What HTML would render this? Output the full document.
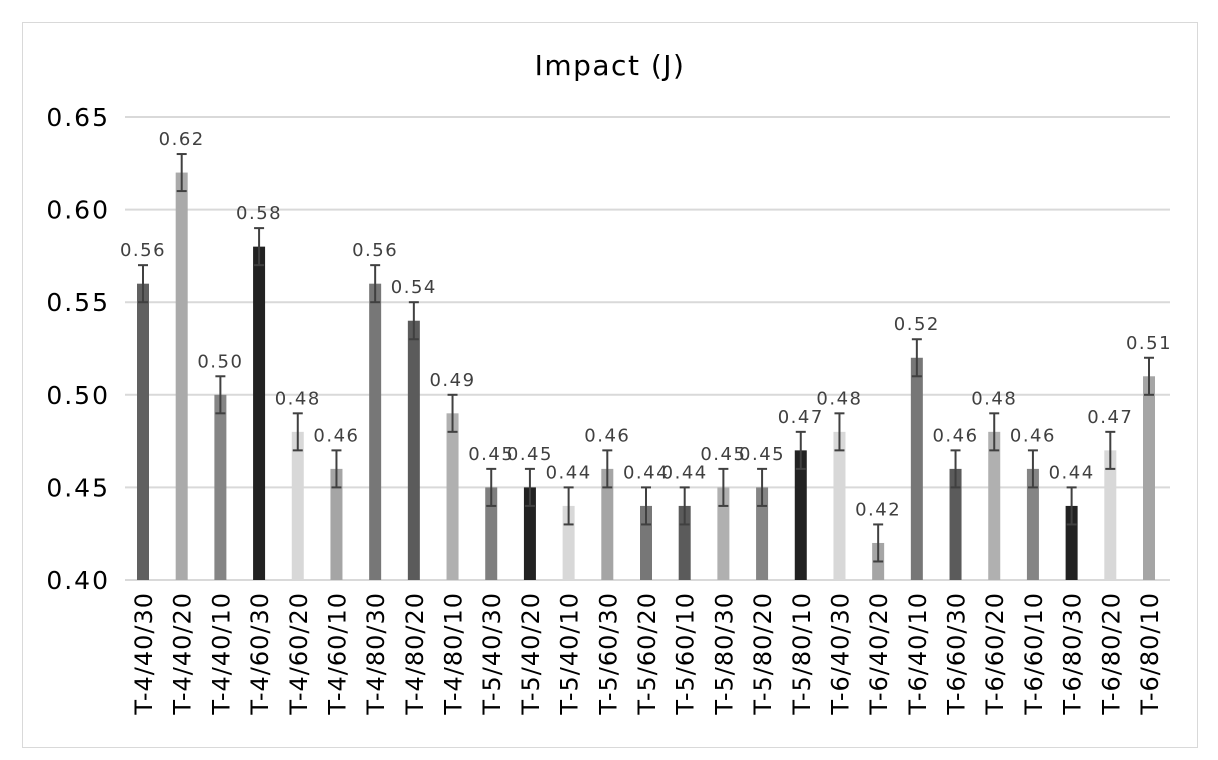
<!DOCTYPE html>
<html><head><meta charset="utf-8"><style>
body{margin:0;background:#fff;}
svg{display:block;font-family:"DejaVu Sans","Liberation Sans",sans-serif;}
</style></head><body>
<svg id="chart" width="1218" height="760">
<rect x="22.5" y="22.5" width="1175" height="725" fill="#fff" stroke="#d9d9d9"/>
<text x="610" y="75" font-size="28" letter-spacing="1.5" text-anchor="middle" fill="#000">Impact (J)</text>
<g id="grid"></g><g id="bars"></g><g id="labels"></g>
</svg>
<script>
const categories=["T-4/40/30","T-4/40/20","T-4/40/10","T-4/60/30","T-4/60/20","T-4/60/10","T-4/80/30","T-4/80/20","T-4/80/10","T-5/40/30","T-5/40/20","T-5/40/10","T-5/60/30","T-5/60/20","T-5/60/10","T-5/80/30","T-5/80/20","T-5/80/10","T-6/40/30","T-6/40/20","T-6/40/10","T-6/60/30","T-6/60/20","T-6/60/10","T-6/80/30","T-6/80/20","T-6/80/10"];
const values=[0.56,0.62,0.50,0.58,0.48,0.46,0.56,0.54,0.49,0.45,0.45,0.44,0.46,0.44,0.44,0.45,0.45,0.47,0.48,0.42,0.52,0.46,0.48,0.46,0.44,0.47,0.51];
const errors=[0.01,0.01,0.01,0.01,0.01,0.01,0.01,0.01,0.01,0.01,0.01,0.01,0.01,0.01,0.01,0.01,0.01,0.01,0.01,0.01,0.01,0.01,0.01,0.01,0.01,0.01,0.01];
const yTicks=[0.40,0.45,0.50,0.55,0.60,0.65];
const colors=["#606060","#aaaaaa","#858585","#222222","#d8d8d8","#a5a5a5","#777777","#5b5b5b","#b0b0b0","#7f7f7f","#222222","#d8d8d8","#a5a5a5","#777777","#5b5b5b","#b0b0b0","#858585","#222222","#d8d8d8","#a5a5a5","#777777","#5b5b5b","#b0b0b0","#858585","#222222","#d8d8d8","#a5a5a5"];
const NS="http://www.w3.org/2000/svg";
const y=v=>580-(v-0.40)/0.25*463;
const x=i=>143+i*(1149-143)/26;
function mk(tag,attrs,parent){const e=document.createElementNS(NS,tag);for(const k in attrs)e.setAttribute(k,attrs[k]);parent.appendChild(e);return e;}
const grid=document.getElementById('grid'),bars=document.getElementById('bars'),labels=document.getElementById('labels');
yTicks.forEach(t=>{
  const l=mk('line',{x1:125,x2:1170,y1:y(t),y2:y(t),stroke:'#d9d9d9','stroke-width':2},grid);
  
  
  const tx=mk('text',{x:110,y:y(t)+9,'font-size':25,'letter-spacing':2,'text-anchor':'end',fill:'#000'},labels);
  tx.textContent=t.toFixed(2);
  
  
});
values.forEach((v,i)=>{
  const cx=x(i);
  const b=mk('rect',{x:cx-6,y:y(v),width:12,height:580-y(v),fill:colors[i]},bars);
  
  
  const e=errors[i],top=y(v+e),bot=y(v-e);
  const g=mk('g',{stroke:'#404040','stroke-width':2},bars);
  
  
  mk('line',{x1:cx,x2:cx,y1:top,y2:bot},g);
  mk('line',{x1:cx-5,x2:cx+5,y1:top,y2:top},g);
  mk('line',{x1:cx-5,x2:cx+5,y1:bot,y2:bot},g);
  const vl=mk('text',{x:cx,y:top-9,'font-size':18,'letter-spacing':1.5,'text-anchor':'middle',fill:'#404040'},labels);
  vl.textContent=v.toFixed(2);
  
  
  const cl=mk('text',{x:0,y:0,'font-size':24,'letter-spacing':1,'text-anchor':'end',fill:'#000',transform:`translate(${cx+9},592) rotate(-90)`},labels);
  cl.textContent=categories[i];
  
  
});
</script>
</body></html>
